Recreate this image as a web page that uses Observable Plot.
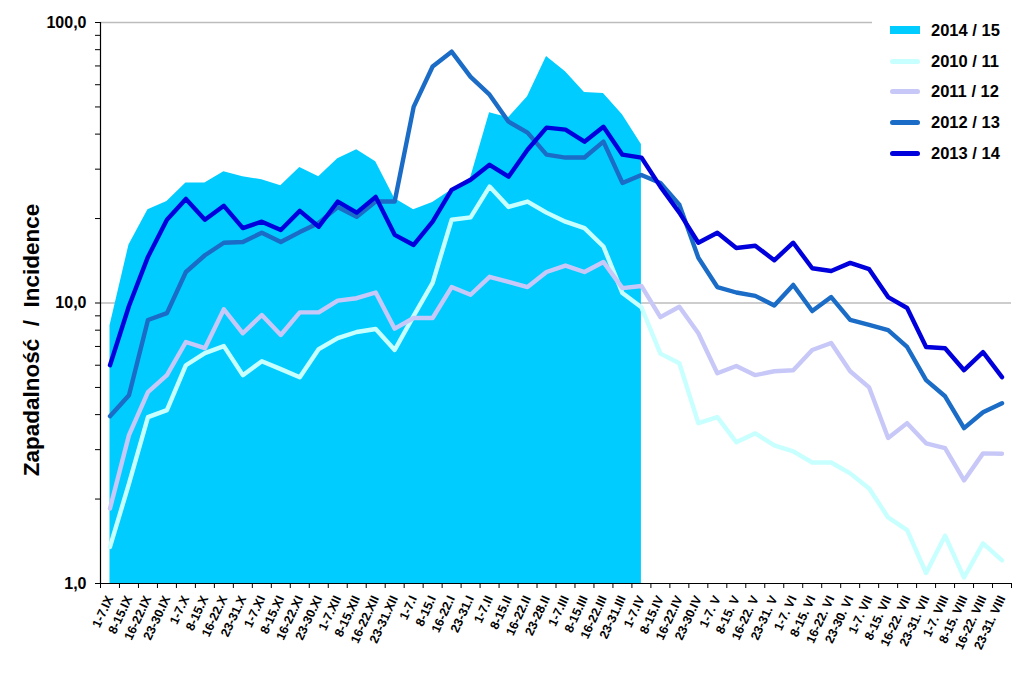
<!DOCTYPE html>
<html><head><meta charset="utf-8">
<script src="https://cdn.jsdelivr.net/npm/d3@7"></script>
<script src="https://cdn.jsdelivr.net/npm/@observablehq/plot@0.6"></script>
<style>
body{margin:0;background:#fff;font-family:"Liberation Sans",Arial,sans-serif;}
#wrap{position:relative;width:1024px;height:673px;overflow:hidden;}
#legend{position:absolute;left:872px;top:11px;width:150px;background:#fff;padding:4px 0;}
.item{display:flex;align-items:center;height:30.7px;font-weight:bold;font-size:16.5px;color:#000;}
.sw{width:30px;margin-left:18px;margin-right:11px;}
</style></head><body><div id="wrap"><div id="chart"></div><div id="legend"></div></div>
<script>
const weeks = ["1-7.IX","8-15.IX","16-22.IX","23-30.IX","1-7.X","8-15.X","16-22.X","23-31.X",
"1-7.XI","8-15.XI","16-22.XI","23-30.XI","1-7.XII","8-15.XII","16-22.XII","23-31.XII",
"1-7.I","8-15.I","16-22.I","23-31.I","1-7.II","8-15.II","16-22.II","23-28.II",
"1-7.III","8-15.III","16-22.III","23-31.III","1-7.IV","8-15.IV","16-22.IV","23-30.IV",
"1-7. V","8-15. V","16-22. V","23-31. V","1-7. VI","8-15. VI","16-22. VI","23-30. VI",
"1-7. VII","8-15. VII","16-22. VII","23-31. VII","1-7. VIII","8-15. VIII","16-22. VIII","23-31. VIII"];

const s2014_15 = [8.3,16.1,21.5,23,26.8,26.8,29.4,28.2,27.5,26.2,30.4,28.2,32.7,35.2,31.9,23.6,
21.5,22.8,25.3,27.9,47.7,45.8,54.4,75.6,66.8,56.3,55.8,46.9,36.7];

const s2010_11 = [1.35,2.27,3.92,4.15,6.0,6.63,7.02,5.53,6.2,5.81,5.44,6.85,7.5,7.88,8.08,6.8,
9.0,11.8,19.8,20.2,26,22,23,21,19.5,18.5,15.9,10.85,9.66,6.6,6.1,3.73,
3.92,3.19,3.43,3.11,2.96,2.7,2.7,2.47,2.18,1.72,1.55,1.09,1.48,1.05,1.39,1.21];

const s2011_12 = [1.85,3.38,4.81,5.53,7.26,6.9,9.5,7.8,9.06,7.69,9.26,9.26,10.2,10.4,10.9,8.1,
8.84,8.84,11.4,10.7,12.4,11.9,11.4,12.9,13.6,12.9,14.0,11.3,11.5,8.9,9.7,7.8,
5.62,5.96,5.53,5.71,5.76,6.8,7.2,5.71,5.0,3.3,3.73,3.16,3.04,2.33,2.91,2.9];

const s2012_13 = [3.95,4.69,8.7,9.2,12.9,14.8,16.4,16.5,17.8,16.5,17.9,19.3,22,20.3,23,23,
50,69.7,78.7,64,55.3,44.3,40.5,33.8,33,33,37.6,26.8,28.6,26.8,22.4,14.5,
11.4,10.9,10.6,9.8,11.6,9.36,10.5,8.7,8.35,8.0,6.97,5.31,4.65,3.58,4.08,4.39];

const s2013_14 = [6.0,9.76,14.6,19.8,23.5,19.8,22.2,18.5,19.5,18.2,21.3,18.7,23,21,23.9,17.5,
16.1,19.5,25.3,27.5,31.1,28.2,35.2,42.2,41.5,37.6,42.5,33.8,33.0,26,21,16.4,
17.8,15.7,16.0,14.2,16.4,13.3,13.0,13.9,13.2,10.5,9.6,6.97,6.9,5.76,6.68,5.44];

const yTicks = [1,2,3,4,5,6,7,8,9,10,20,30,40,50,60,70,80,90,100];
const yLabelled = [1,10,100];

const seasons = [
  {name:"2014 / 15", color:"#00ccff", area:true},
  {name:"2010 / 11", color:"#c8ffff", data:s2010_11},
  {name:"2011 / 12", color:"#c8c8f8", data:s2011_12},
  {name:"2012 / 13", color:"#1a6cc6", data:s2012_13},
  {name:"2013 / 14", color:"#0000dc", data:s2013_14}
];

const idx = (d,i) => i;
const lineMarks = seasons.filter(s => !s.area).map(s =>
  Plot.lineY(s.data, {x: idx, y: d => d, stroke: s.color, strokeWidth: 4.4, strokeLinejoin: "round", strokeLinecap: "round"}));

const chart = Plot.plot({
  width: 1024, height: 673,
  marginLeft: 100, marginRight: 13, marginTop: 22, marginBottom: 90,
  style: {fontFamily: "'Liberation Sans', Arial, sans-serif", color: "#000", background: "#fff"},
  x: {type: "linear", domain: [-0.5, 47.5], axis: null},
  y: {type: "log", domain: [1, 100], axis: null},
  marks: [
    Plot.ruleY([10, 100], {stroke: "#bdbdbd", strokeWidth: 1.3}),
    Plot.areaY(s2014_15, {x: idx, y1: 1, y2: d => d, fill: seasons[0].color}),
    ...lineMarks,
    Plot.ruleX([-0.5], {stroke: "#000", strokeWidth: 1.2}),
    Plot.ruleY([1], {stroke: "#000", strokeWidth: 1.2}),
    Plot.axisX(d3.range(49).map(i => i - 0.5), {tickSize: 5, tickFormat: () => "", strokeWidth: 1}),
    Plot.axisX(d3.range(weeks.length), {tickSize: 0, tickPadding: 13, tickRotate: -65, tickFormat: i => weeks[i], fontSize: 12.5, fontWeight: "bold", label: null}),
    Plot.axisY(yTicks, {tickSize: 5, tickPadding: 9, fontSize: 16, fontWeight: "bold", label: null,
      tickFormat: d => yLabelled.includes(d) ? d.toFixed(1).replace(".", ",") : ""}),
    Plot.text(["Zapadalność \u00a0/\u00a0 Incidence"], {frameAnchor: "left", textAnchor: "middle", dx: -69, dy: 37, rotate: -90, fontSize: 22.5, fontWeight: "bold", text: d => d})
  ]
});
document.getElementById("chart").appendChild(chart);

const legend = document.getElementById("legend");
for (const s of seasons) {
  const it = document.createElement("div");
  it.className = "item";
  const sw = document.createElement("div");
  sw.className = "sw";
  if (s.area) { sw.style.height = "8px"; sw.style.background = s.color; }
  else { sw.style.height = "5px"; sw.style.borderRadius = "3px"; sw.style.background = s.color; }
  const tx = document.createElement("span");
  tx.textContent = s.name;
  it.appendChild(sw); it.appendChild(tx);
  legend.appendChild(it);
}
</script>
</body></html>
